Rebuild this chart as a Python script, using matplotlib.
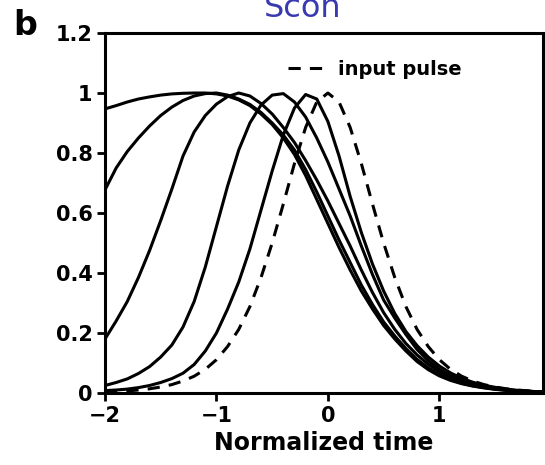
import matplotlib; matplotlib.use("Agg")
import matplotlib.pyplot as plt

# normalized time samples (x) shared by all pulses
T = [-2.0, -1.9, -1.8, -1.7, -1.6, -1.5, -1.4, -1.3, -1.2, -1.1, -1.0, -0.9, -0.8, -0.7,
     -0.6, -0.5, -0.4, -0.3, -0.2, -0.1, 0.0, 0.1, 0.2, 0.3, 0.4, 0.5, 0.6, 0.7, 0.8, 0.9,
     1.0, 1.1, 1.2, 1.3, 1.4, 1.5, 1.6, 1.7, 1.8, 1.9, 2.0]

# dashed reference pulse
input_pulse = [0.003, 0.005, 0.007, 0.010, 0.014, 0.020, 0.028, 0.040, 0.056, 0.079, 0.111,
               0.155, 0.212, 0.288, 0.385, 0.500, 0.630, 0.765, 0.885, 0.970, 1.000, 0.970,
               0.885, 0.765, 0.630, 0.500, 0.385, 0.288, 0.212, 0.155, 0.111, 0.079, 0.056,
               0.040, 0.028, 0.020, 0.014, 0.010, 0.007, 0.005, 0.003]

# output pulses, widest (most advanced) first
pulse_a = [0.947, 0.958, 0.970, 0.980, 0.987, 0.993, 0.997, 0.999, 1.000, 1.000, 0.997,
           0.990, 0.977, 0.958, 0.930, 0.895, 0.850, 0.795, 0.725, 0.645, 0.565, 0.485,
           0.410, 0.340, 0.280, 0.225, 0.180, 0.140, 0.105, 0.078, 0.057, 0.042, 0.031,
           0.023, 0.017, 0.012, 0.009, 0.007, 0.005, 0.004, 0.003]
pulse_b = [0.677, 0.750, 0.805, 0.850, 0.890, 0.925, 0.953, 0.975, 0.990, 0.998, 1.000,
           0.993, 0.980, 0.962, 0.935, 0.900, 0.860, 0.810, 0.745, 0.670, 0.590, 0.510,
           0.435, 0.360, 0.295, 0.237, 0.190, 0.148, 0.112, 0.084, 0.062, 0.045, 0.033,
           0.024, 0.018, 0.013, 0.009, 0.007, 0.005, 0.004, 0.003]
pulse_c = [0.180, 0.240, 0.305, 0.385, 0.475, 0.575, 0.680, 0.790, 0.870, 0.925, 0.963,
           0.988, 1.000, 0.990, 0.965, 0.930, 0.885, 0.835, 0.775, 0.710, 0.640, 0.565,
           0.490, 0.410, 0.335, 0.268, 0.212, 0.165, 0.127, 0.096, 0.071, 0.052, 0.038,
           0.027, 0.019, 0.014, 0.010, 0.007, 0.005, 0.004, 0.003]
pulse_d = [0.025, 0.035, 0.047, 0.065, 0.088, 0.120, 0.160, 0.220, 0.305, 0.420, 0.555,
           0.690, 0.810, 0.900, 0.960, 0.993, 0.998, 0.970, 0.920, 0.850, 0.770, 0.680,
           0.590, 0.490, 0.395, 0.310, 0.250, 0.195, 0.145, 0.108, 0.079, 0.058, 0.042,
           0.031, 0.022, 0.016, 0.011, 0.008, 0.006, 0.004, 0.003]
pulse_e = [0.008, 0.010, 0.013, 0.018, 0.025, 0.035, 0.048, 0.066, 0.095, 0.140, 0.200,
           0.280, 0.370, 0.480, 0.610, 0.740, 0.860, 0.950, 0.995, 0.980, 0.905, 0.790,
           0.655, 0.535, 0.430, 0.340, 0.265, 0.205, 0.158, 0.120, 0.090, 0.067, 0.049,
           0.036, 0.026, 0.019, 0.013, 0.009, 0.006, 0.004, 0.003]

XTICKS = [-2, -1, 0, 1]
YTICKS = [0, 0.2, 0.4, 0.6, 0.8, 1, 1.2]
YLABELS = ["0", "0.2", "0.4", "0.6", "0.8", "1", "1.2"]

plt.rcParams["font.family"] = ["DejaVu Sans"]
fig = plt.figure(figsize=(5.45, 4.65), dpi=100)
ax = fig.add_axes([105 / 545, 1 - 393 / 465, 438 / 545, 360 / 465])

for y in (pulse_a, pulse_b, pulse_c, pulse_d, pulse_e):
    ax.plot(T, y, color="k", lw=2.2, solid_capstyle="round")
ax.plot(T, input_pulse, color="k", lw=2.2, ls=(0, (4, 3)), label="input pulse")

ax.set_xlim(-2, 1.93); ax.set_ylim(0, 1.2)
ax.set_xticks(XTICKS); ax.set_yticks(YTICKS, YLABELS)
ax.tick_params(direction="out", length=6, width=2, labelsize=15, pad=3)
for lab in ax.get_xticklabels() + ax.get_yticklabels():
    lab.set_fontweight("bold")
# the "2" tick sits just past the cropped right edge
ax.text(2, -0.035, "2", ha="center", va="top", fontsize=15, fontweight="bold",
        transform=ax.get_xaxis_transform(), clip_on=False)
for s in ax.spines.values():
    s.set_linewidth(2.2)
ax.set_xlabel("Normalized time", fontsize=17, fontweight="bold", labelpad=4)

ax.legend(loc="upper left", bbox_to_anchor=(0.377, 0.975), frameon=False, handlelength=2.0,
          handletextpad=0.6, prop=dict(size=14, weight="bold"))

fig.text(13 / 545, 1 - 35 / 465, "b", fontsize=24, fontweight="bold", va="baseline")
# heading is cropped at the top in the reference scan
fig.text(0.556, 1 - 17 / 465, "Scon", fontsize=23, color="#3a3ab0", ha="center", va="baseline")

fig.savefig("out.png", dpi=100)
